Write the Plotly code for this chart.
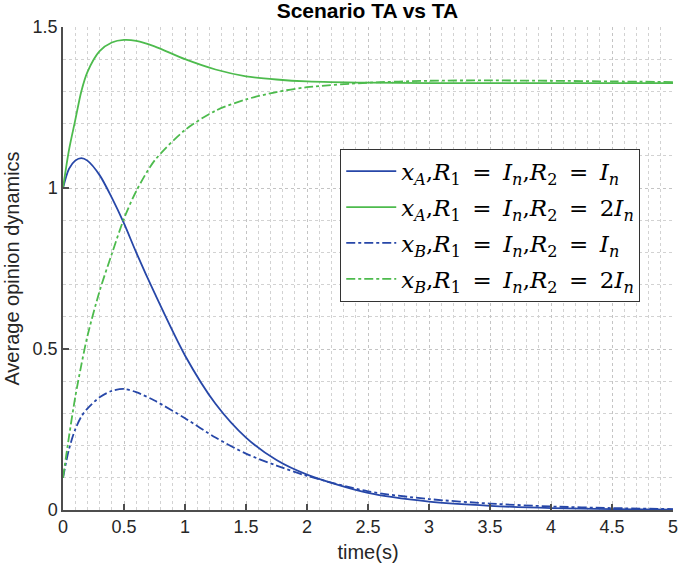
import plotly.graph_objects as go

# sample times (s)
t = [0, 0.05, 0.1, 0.15, 0.2, 0.3, 0.4, 0.5, 0.6, 0.75, 1.0, 1.25, 1.5,
     1.75, 2.0, 2.5, 3.0, 3.5, 4.0, 4.5, 5.0]

# x_A, R1 = In, R2 = In
xa_r2_in = [1.0, 1.06, 1.085, 1.093, 1.085, 1.04, 0.97, 0.89, 0.80, 0.674,
            0.48, 0.33, 0.225, 0.155, 0.11, 0.053, 0.026, 0.013, 0.006, 0.003, 0.001]
# x_A, R1 = In, R2 = 2In
xa_r2_2in = [1.0, 1.12, 1.21, 1.30, 1.36, 1.425, 1.452, 1.46, 1.457, 1.44,
             1.40, 1.368, 1.347, 1.337, 1.331, 1.327, 1.326, 1.326, 1.326, 1.326, 1.326]
# x_B, R1 = In, R2 = In
xb_r2_in = [0.1, 0.19, 0.25, 0.29, 0.315, 0.35, 0.37, 0.376, 0.366, 0.34,
            0.285, 0.225, 0.175, 0.138, 0.106, 0.058, 0.034, 0.02, 0.011, 0.006, 0.003]
# x_B, R1 = In, R2 = 2In
xb_r2_2in = [0.1, 0.23, 0.35, 0.45, 0.54, 0.68, 0.795, 0.905, 0.99, 1.085,
             1.18, 1.24, 1.275, 1.298, 1.313, 1.327, 1.333, 1.334, 1.333, 1.331, 1.329]

x_ticks = [0, 0.5, 1, 1.5, 2, 2.5, 3, 3.5, 4, 4.5, 5]
x_ticktext = ['0', '0.5', '1', '1.5', '2', '2.5', '3', '3.5', '4', '4.5', '5']
y_ticks = [0, 0.5, 1, 1.5]
y_ticktext = ['0', '0.5', '1', '1.5']

BLUE = '#2747a8'
GREEN = '#4dbb4d'

EQ = '\u2002=\u2002'  # wider room around "=" like TeX math spacing


def label(var, r2):
    return ('<i>x</i><sub><i>%s</i></sub>,<i>R</i><sub>1</sub>%s<i>I</i><sub><i>n</i></sub>,'
            '<i>R</i><sub>2</sub>%s%s<i>I</i><sub><i>n</i></sub>' % (var, EQ, EQ, r2))


series = [
    (xa_r2_in, BLUE, 'solid', label('A', '')),
    (xa_r2_2in, GREEN, 'solid', label('A', '2')),
    (xb_r2_in, BLUE, 'dashdot', label('B', '')),
    (xb_r2_2in, GREEN, 'dashdot', label('B', '2')),
]

fig = go.Figure()
for i, (y, color, dash, name) in enumerate(series):
    fig.add_trace(go.Scatter(
        x=t, y=y, mode='lines', name=name, legendgroup='g%d' % i,
        line=dict(color=color, width=1.8, dash=dash, shape='spline', smoothing=0.8)
    ))

axis_common = dict(
    showline=True, linecolor='#4d4d4d', linewidth=1.5,
    ticks='inside', ticklen=6, tickcolor='#4d4d4d', tickwidth=1.5,
    showgrid=True, gridcolor='#c4c4c4', griddash='dot', gridwidth=1,
    zeroline=False, mirror=False, automargin=False,
    ticklabeloverflow='allow',
    tickfont=dict(size=18, color='#262626'),
    minor=dict(dtick=0.1, showgrid=True, gridcolor='#d2d2d2', griddash='dot', gridwidth=1),
)

fig.update_xaxes(range=[0, 5], tickvals=x_ticks, ticktext=x_ticktext,
                 title=dict(text='time(s)', font=dict(size=20, color='#262626'), standoff=9),
                 **axis_common)
fig.update_yaxes(range=[0, 1.5], tickvals=y_ticks, ticktext=y_ticktext,
                 title=dict(text='Average opinion dynamics', font=dict(size=20, color='#262626'), standoff=8),
                 **axis_common)

fig.update_layout(
    width=678, height=569,
    paper_bgcolor='white', plot_bgcolor='white',
    font=dict(family='Liberation Sans, Arial, sans-serif', color='#262626'),
    title=dict(text='<b>Scenario TA vs TA</b>', x=0.542, xanchor='center', y=0.9815, yanchor='middle',
               font=dict(size=21, color='#000000')),
    margin=dict(l=63, r=5, t=27, b=59),
    showlegend=True,
    legend=dict(
        x=0.4545, y=0.748, xanchor='left', yanchor='top',
        bgcolor='white', bordercolor='#333333', borderwidth=1,
        font=dict(family='DejaVu Serif, Liberation Serif, serif', size=23, color='#000000'),
        tracegroupgap=3, itemwidth=50,
    ),
)

# drop the browser's default 8px body margin so the figure sits at the page corner
fig.write_html("out.html", config={'displayModeBar': False},
               post_script="document.body.style.margin='0';")
